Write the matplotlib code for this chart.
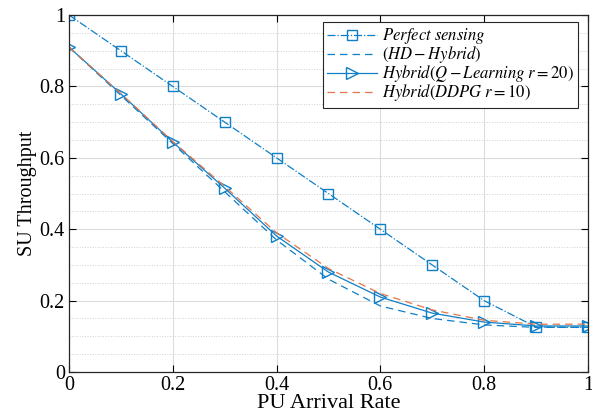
import matplotlib
matplotlib.use("Agg")
import matplotlib.pyplot as plt
from matplotlib.ticker import MultipleLocator, FuncFormatter

# ── Data ──────────────────────────────────────────────────────────────────────
arrival_rate = [0.0, 0.1, 0.2, 0.3, 0.4, 0.5, 0.6, 0.7, 0.8, 0.9, 1.0]
perfect      = [1.0, 0.9, 0.8, 0.7, 0.6, 0.5, 0.4, 0.3, 0.2, 0.126, 0.125]
hd_hybrid    = [0.91, 0.775, 0.64, 0.505, 0.37, 0.26, 0.185, 0.15, 0.132, 0.125, 0.125]
q_learning   = [0.91, 0.779, 0.644, 0.515, 0.381, 0.28, 0.21, 0.165, 0.14, 0.129, 0.129]
ddpg         = [0.91, 0.78, 0.646, 0.52, 0.39, 0.29, 0.22, 0.174, 0.145, 0.134, 0.134]

BLUE   = "#0F7FC7"
ORANGE = "#E4764A"

plt.rcParams.update({
    "font.family": ["Liberation Serif", "DejaVu Serif"],
    "mathtext.fontset": "stix",
    "font.size": 14,
})

fig = plt.figure(figsize=(5.92, 4.18), dpi=100)
ax = fig.add_axes([0.1166, 0.110, 0.8764, 0.854])

ax.plot(arrival_rate, perfect, color=BLUE, linestyle="-.", linewidth=0.9,
        marker="s", markersize=7, markerfacecolor="none", markeredgewidth=1.0,
        label=r"$Perfect\ sensing$")
ax.plot(arrival_rate, hd_hybrid, color=BLUE, linestyle=(0, (6, 4)), linewidth=0.9,
        label=r"$(HD-Hybrid)$")
ax.plot(arrival_rate, q_learning, color=BLUE, linestyle="-", linewidth=0.9,
        marker=">", markersize=8, markerfacecolor="none", markeredgewidth=1.0,
        label=r"$Hybrid(Q-Learning\ r=20)$")
ax.plot(arrival_rate, ddpg, color=ORANGE, linestyle=(0, (6, 4)), linewidth=0.9,
        label=r"$Hybrid(DDPG\ r=10)$")

ax.set_xlim(0, 1)
ax.set_ylim(0, 1)
ax.xaxis.set_major_locator(MultipleLocator(0.2))
ax.yaxis.set_major_locator(MultipleLocator(0.2))
ax.yaxis.set_minor_locator(MultipleLocator(0.05))
ax.xaxis.set_major_formatter(FuncFormatter(lambda v, _: f"{v:g}"))
ax.yaxis.set_major_formatter(FuncFormatter(lambda v, _: f"{v:g}"))

ax.grid(True, which="major", color="#DCDCDC", linewidth=0.8)
ax.grid(True, which="minor", axis="y", color="#CFCFCF", linestyle=":", linewidth=0.7)
ax.set_axisbelow(True)

ax.tick_params(which="both", direction="in", top=True, right=True, labelsize=14.5, pad=3)
ax.tick_params(which="minor", length=0)
ax.tick_params(which="major", length=5)
for s in ax.spines.values():
    s.set_color("#262626")
    s.set_linewidth(0.9)

ax.set_xlabel("PU Arrival Rate", fontsize=16, labelpad=-1)
ax.set_ylabel("SU Throughput", fontsize=14.5, labelpad=2)

leg = ax.legend(loc="upper right", fontsize=12, frameon=True, fancybox=False,
                edgecolor="#262626", framealpha=1, handlelength=3.0,
                borderpad=0.25, labelspacing=-0.12, handletextpad=0.3,
                borderaxespad=0, bbox_to_anchor=(0.981, 0.980))
leg.get_frame().set_linewidth(0.8)

fig.savefig("out.png", dpi=100)
